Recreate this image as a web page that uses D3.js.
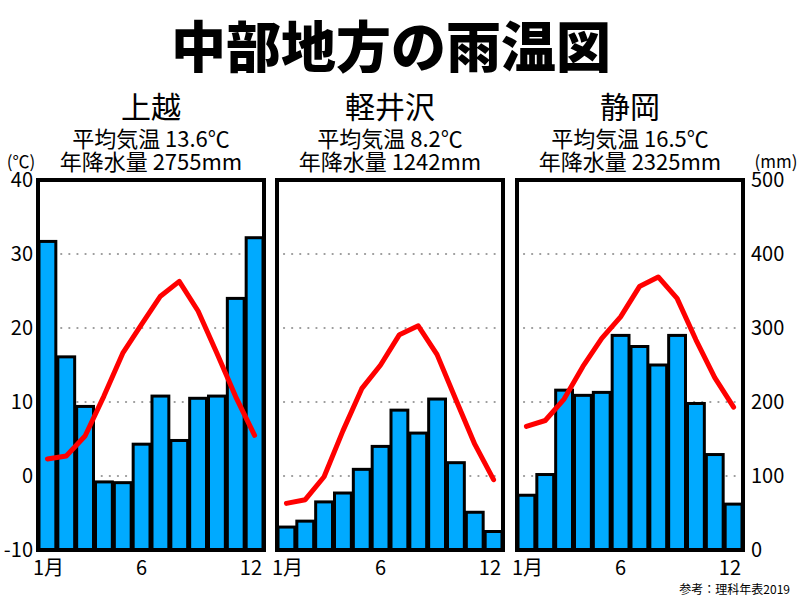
<!DOCTYPE html>
<html><head><meta charset="utf-8">
<script src="https://cdn.jsdelivr.net/npm/d3@7"></script>
<style>body{margin:0;background:#fff}svg{display:block}text{font-family:"Noto Sans CJK JP","Noto Sans",sans-serif}</style>
</head><body><svg id="c" width="800" height="600"></svg>
<script>
const months = [1,2,3,4,5,6,7,8,9,10,11,12];
const stations = ["上越","軽井沢","静岡"];
const avgTempLabels = ["平均気温 13.6℃","平均気温 8.2℃","平均気温 16.5℃"];
const precipLabels = ["年降水量 2755mm","年降水量 1242mm","年降水量 2325mm"];
const joetsuTemp = [2.3, 2.7, 5.4, 10.8, 16.6, 20.5, 24.3, 26.3, 22.3, 16.6, 10.7, 5.5];
const joetsuPrecip = [417, 261, 194, 92, 91, 143, 208, 148, 205, 208, 340, 422];
const karuizawaTemp = [-3.7, -3.2, -0.1, 6.1, 11.8, 15.0, 19.1, 20.3, 16.4, 10.3, 4.3, -0.5];
const karuizawaPrecip = [31, 39, 65, 77, 109, 140, 189, 158, 204, 118, 51, 25];
const shizuokaTemp = [6.7, 7.5, 10.4, 14.8, 18.6, 21.5, 25.6, 26.9, 24.0, 18.4, 13.3, 9.3];
const shizuokaPrecip = [74, 102, 216, 209, 213, 290, 275, 250, 290, 198, 129, 62];
const tempTicks = [-10,0,10,20,30,40];
const precipTicks = [0,100,200,300,400,500];
const gridTicks = [0,10,20,30];
const monthTickValues = [1,6,12];
const monthTickLabels = ["1月","6","12"];

const temps = [joetsuTemp, karuizawaTemp, shizuokaTemp];
const precs = [joetsuPrecip, karuizawaPrecip, shizuokaPrecip];

const svg = d3.select("#c");
const plotTop = 180, plotBottom = 550;
const yT = d3.scaleLinear().domain([-10,40]).range([plotBottom, plotTop]);
const yP = d3.scaleLinear().domain([0,500]).range([plotBottom, plotTop]);
const panelX = [[38,264],[277,503],[517,743]];

svg.append("text").attr("x",391).attr("y",67).attr("text-anchor","middle")
  .attr("font-size",55).attr("font-weight",900).attr("fill","#000").text("中部地方の雨温図");

stations.forEach((name,i)=>{
  const [x0,x1] = panelX[i];
  const cx = (x0+x1)/2;
  const x = d3.scaleBand().domain(months).range([x0,x1]).padding(0);
  const g = svg.append("g");
  g.append("text").attr("x",cx).attr("y",118).attr("text-anchor","middle").attr("font-size",30).text(name);
  g.append("text").attr("x",cx).attr("y",147).attr("text-anchor","middle").attr("font-size",22).text(avgTempLabels[i]);
  g.append("text").attr("x",cx).attr("y",170).attr("text-anchor","middle").attr("font-size",22).text(precipLabels[i]);
  g.selectAll("line.grid").data(gridTicks).join("line")
    .attr("x1",x0+7).attr("x2",x1-4).attr("y1",d=>yT(d)).attr("y2",d=>yT(d))
    .attr("stroke","#999").attr("stroke-width",2.2).attr("stroke-dasharray","0.1,8").attr("stroke-linecap","round");
  g.selectAll("rect.bar").data(precs[i]).join("rect")
    .attr("x",(d,j)=>x(months[j])+1).attr("width",x.bandwidth()-2)
    .attr("y",d=>yP(d)).attr("height",d=>plotBottom-yP(d))
    .attr("fill","#00aaff").attr("stroke","#000").attr("stroke-width",3);
  const line = d3.line().x((d,j)=>x(months[j])+x.bandwidth()/2).y(d=>yT(d));
  g.append("path").datum(temps[i]).attr("d",line).attr("fill","none")
    .attr("stroke","#ff0000").attr("stroke-width",5).attr("stroke-linejoin","round").attr("stroke-linecap","round");
  g.append("rect").attr("x",x0).attr("y",plotTop).attr("width",x1-x0).attr("height",plotBottom-plotTop)
    .attr("fill","none").attr("stroke","#000").attr("stroke-width",4);
  g.selectAll("text.m").data(monthTickValues).join("text")
    .attr("x",(d,k)=> k===0 ? x(d)-5 : k===2 ? x(d)+x.bandwidth()-2 : x(d)+x.bandwidth()/2)
    .attr("text-anchor",(d,k)=> k===0 ? "start" : k===2 ? "end" : "middle")
    .attr("y",575).attr("font-size",20).text((d,k)=>monthTickLabels[k]);
});

svg.selectAll("text.lt").data(tempTicks).join("text")
  .attr("x",33).attr("y",d=>yT(d)+7).attr("text-anchor","end").attr("font-size",20).text(d=>d);
svg.append("text").attr("x",21).attr("y",168).attr("text-anchor","middle").attr("font-size",17).text("(℃)");
svg.selectAll("text.rt").data(precipTicks).join("text")
  .attr("x",751).attr("y",d=>yP(d)+7).attr("text-anchor","start").attr("font-size",20).text(d=>d);
svg.append("text").attr("x",776).attr("y",168).attr("text-anchor","middle").attr("font-size",17).text("(mm)");
svg.append("text").attr("x",790).attr("y",594).attr("text-anchor","end").attr("font-size",12).text("参考：理科年表2019");
</script></body></html>
